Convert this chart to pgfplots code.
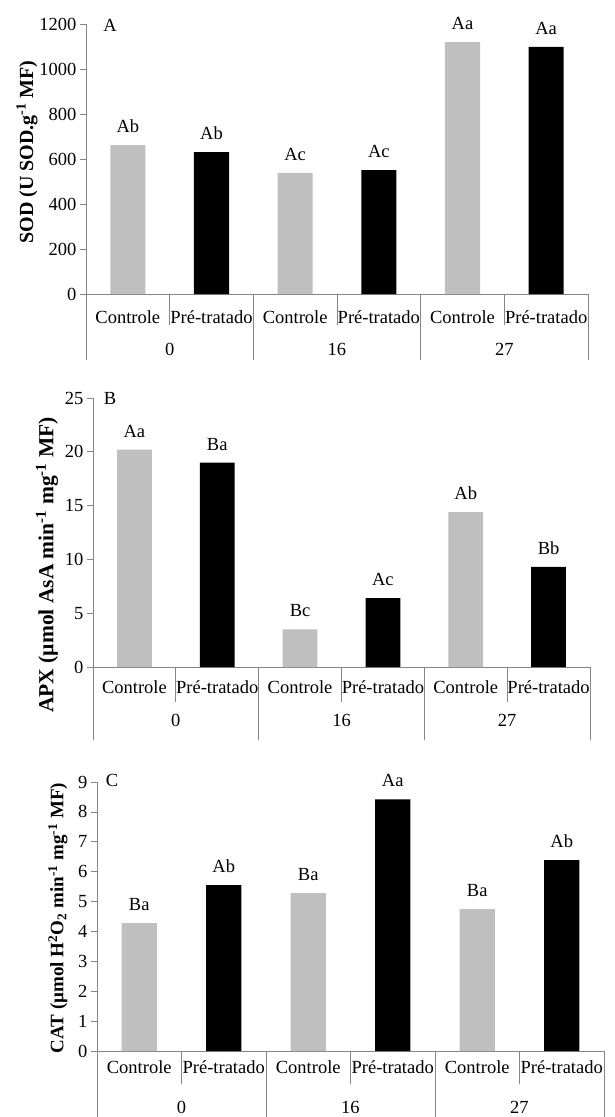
\documentclass[border=0pt]{standalone}
\usepackage{fontspec}
\setmainfont{Liberation Serif}
\usepackage{pgfplots}
\pgfplotsset{compat=1.18}
\definecolor{barg}{RGB}{191,191,191}
\definecolor{axg}{RGB}{134,134,134}
\newcommand\fs{\fontsize{18.5}{22}\selectfont}
\newcommand\lblA{\fontsize{20}{23}\selectfont\bfseries}
\newcommand\lblB{\fontsize{21.5}{24}\selectfont\bfseries}
\newcommand\lblC{\fontsize{19}{22}\selectfont\bfseries}
\tikzset{sep/.style={draw=axg, line width=0.8pt}}
\pgfplotsset{
 panel/.style={
  scale only axis, anchor=south west,
  xmin=-0.5, xmax=5.5, ymin=0,
  axis x line=bottom, axis y line=left,
  axis line style={draw=axg, line width=0.8pt, -},
  xtick={0,...,5},
  xticklabels={Controle,Pré-tratado,Controle,Pré-tratado,Controle,Pré-tratado},
  major x tick style={draw=none},
  y tick style={draw=axg, line width=0.8pt},
  tick align=outside, major tick length=6pt,
  /pgf/number format/assume math mode=true,
  /pgf/number format/1000 sep={},
  yticklabel style={font=\fs},
  xticklabel style={font=\fs, anchor=base},
  clip=false,
  nodes near coords, point meta=explicit symbolic,
  every node near coord/.append style={font=\fs, anchor=base, yshift=12.5pt, text=black},
 },
 gbar/.style={ybar, bar shift=0pt, bar width=0.42, fill=barg, draw=none},
 kbar/.style={ybar, bar shift=0pt, bar width=0.42, fill=black, draw=none},
}
\newcommand\seps[3]{%
\draw[sep] (axis cs:0.5,0) -- ([yshift=-#1]axis cs:0.5,0);
\draw[sep] (axis cs:2.5,0) -- ([yshift=-#1]axis cs:2.5,0);
\draw[sep] (axis cs:4.5,0) -- ([yshift=-#1]axis cs:4.5,0);
\draw[sep] (axis cs:-0.5,0) -- ([yshift=-#2]axis cs:-0.5,0);
\draw[sep] (axis cs:1.5,0) -- ([yshift=-#2]axis cs:1.5,0);
\draw[sep] (axis cs:3.5,0) -- ([yshift=-#2]axis cs:3.5,0);
\draw[sep] (axis cs:5.5,0) -- ([yshift=-#2]axis cs:5.5,0);
\node[font=\fs, anchor=base] at ([yshift=-#3]axis cs:0.5,0) {0};
\node[font=\fs, anchor=base] at ([yshift=-#3]axis cs:2.5,0) {16};
\node[font=\fs, anchor=base] at ([yshift=-#3]axis cs:4.5,0) {27};
}
\begin{document}
\begin{tikzpicture}
\useasboundingbox (0pt,0pt) rectangle (615pt,-1117pt);
% Panel A
\begin{axis}[panel, at={(86pt,-294pt)}, width=502pt, height=270pt,
  ymax=1200, ytick={0,200,...,1200},
  xticklabel style={yshift=-23pt}]
\addplot[gbar] coordinates {(0,662)[Ab] (2,538)[Ac] (4,1120)[Aa]};
\addplot[kbar] coordinates {(1,631)[Ab] (3,551)[Ac] (5,1098)[Aa]};
\seps{31pt}{66pt}{61pt}
\end{axis}
% Panel B
\begin{axis}[panel, at={(93pt,-667pt)}, width=497pt, height=269pt,
  ymax=25, ytick={0,5,...,25},
  xticklabel style={yshift=-20pt}]
\addplot[gbar] coordinates {(0,20.2)[Aa] (2,3.5)[Bc] (4,14.4)[Ab]};
\addplot[kbar] coordinates {(1,19.0)[Ba] (3,6.4)[Ac] (5,9.3)[Bb]};
\seps{35pt}{73pt}{59pt}
\end{axis}
% Panel C
\begin{axis}[panel, at={(97pt,-1051pt)}, width=507pt, height=269pt,
  ymax=9, ytick={0,1,...,9},
  xticklabel style={yshift=-16pt}]
\addplot[gbar] coordinates {(0,4.28)[Ba] (2,5.28)[Ba] (4,4.75)[Ba]};
\addplot[kbar] coordinates {(1,5.55)[Ab] (3,8.42)[Aa] (5,6.39)[Ab]};
\seps{33pt}{70pt}{62pt}
\end{axis}
% labels
\node[rotate=90, font=\lblA] at (27pt,-152pt) {SOD (U SOD.g\textsuperscript{-1} MF)};
\node[rotate=90, font=\lblB] at (47pt,-565pt) {APX (µmol AsA min\textsuperscript{-1} mg\textsuperscript{-1} MF)};
\node[rotate=90, font=\lblC] at (58pt,-918pt) {CAT (µmol H\textsuperscript{2}O\textsubscript{2} min\textsuperscript{-1} mg\textsuperscript{-1} MF)};
\node[font=\fs] at (110pt,-25pt) {A};
\node[font=\fs] at (110pt,-398pt) {B};
\node[font=\fs] at (112pt,-780pt) {C};
\end{tikzpicture}
\end{document}
